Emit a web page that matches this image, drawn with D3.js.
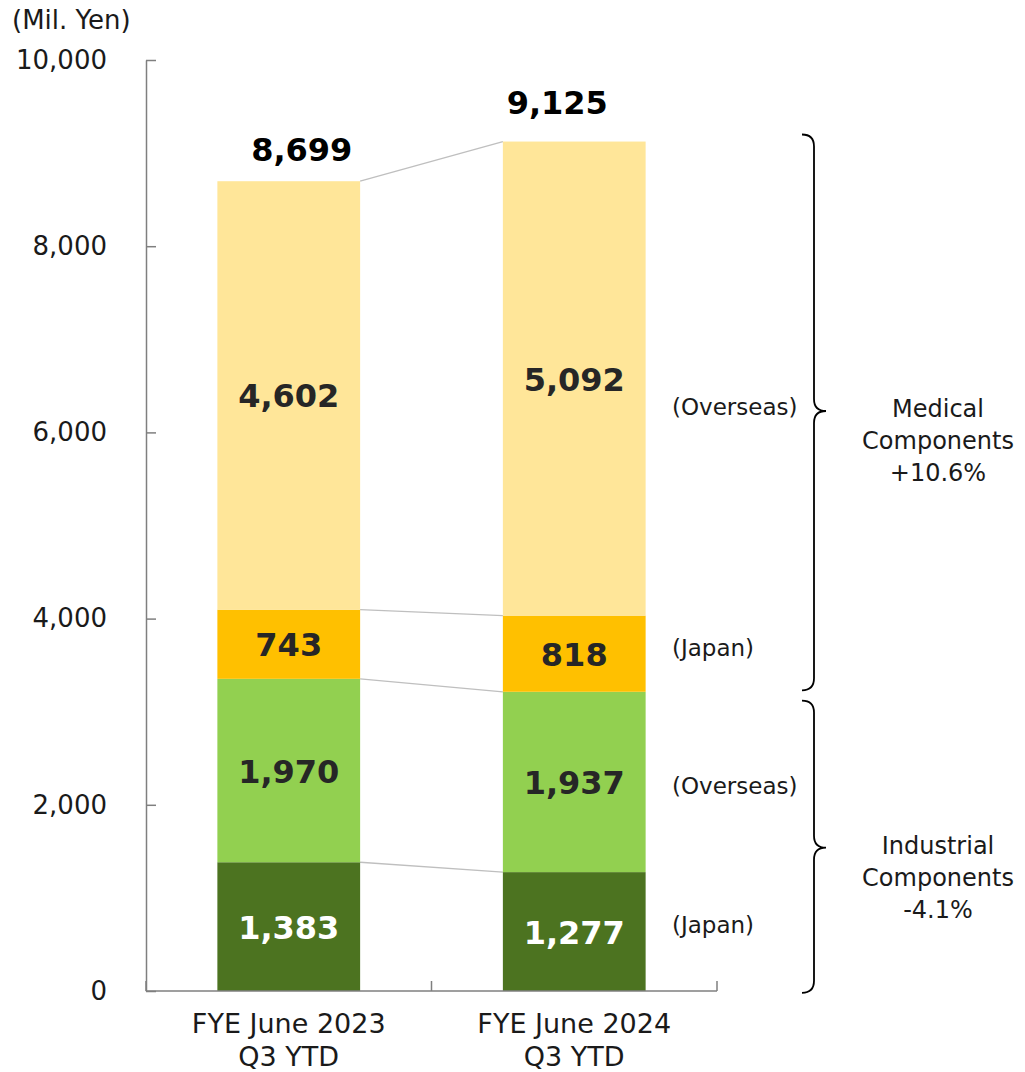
<!DOCTYPE html>
<html>
<head>
<meta charset="utf-8">
<script src="https://cdn.jsdelivr.net/npm/d3@7"></script>
<style>
  body { margin: 0; background: #fff; }
  text { font-family: "DejaVu Sans", Verdana, sans-serif; }
</style>
</head>
<body>
<div id="chart-container" style="width:1025px;height:1072px"></div>
<script>
// data
const categories = ['FYE June 2023\nQ3 YTD', 'FYE June 2024\nQ3 YTD']
const segments = ['Industrial Japan', 'Industrial Overseas', 'Medical Japan', 'Medical Overseas']
const industrialJapan = [1383, 1277]
const industrialOverseas = [1970, 1937]
const medicalJapan = [743, 818]
const medicalOverseas = [4602, 5092]
const totals = [8699, 9125]
const yTicks = [0, 2000, 4000, 6000, 8000, 10000]
const groupLabels = [
  { lines: ['Medical', 'Components', '+10.6%'], from: 9200, to: 3230, tip: 6230 },
  { lines: ['Industrial', 'Components', '-4.1%'], from: 3120, to: -20, tip: 1540 }
]
const regionLabels = [
  { text: '(Overseas)', at: 6273 },
  { text: '(Japan)', at: 3684 },
  { text: '(Overseas)', at: 2202 },
  { text: '(Japan)', at: 709 }
]

const colors = ['#4c7320', '#92d050', '#ffc000', '#ffe699']
const labelColors = ['#ffffff', '#262626', '#262626', '#262626']
// the total labels sit a bit off centre in the original
const totalNudge = [{ dx: 13, dy: -31 }, { dx: -17, dy: -38 }]

const width = 1025
const height = 1072

const svg = d3.select('#chart-container').append('svg')
  .attr('width', width)
  .attr('height', height)

const x = d3.scaleBand()
  .domain(categories)
  .range([146, 717])

const y = d3.scaleLinear()
  .domain([0, 10000])
  .range([991, 60])

const table = categories.map((c, i) => ({
  cat: c,
  'Industrial Japan': industrialJapan[i],
  'Industrial Overseas': industrialOverseas[i],
  'Medical Japan': medicalJapan[i],
  'Medical Overseas': medicalOverseas[i]
}))
const stacked = d3.stack().keys(segments)(table)

const barW = x.bandwidth() * 0.5
const barX = c => x(c) + x.bandwidth() * 0.25

// connector lines between the bars
stacked.forEach(layer => {
  svg.append('line')
    .attr('x1', barX(categories[0]) + barW)
    .attr('y1', y(layer[0][1]))
    .attr('x2', barX(categories[1]))
    .attr('y2', y(layer[1][1]))
    .attr('stroke', '#bfbfbf')
    .attr('stroke-width', 1.3)
})

// bars
stacked.forEach((layer, k) => {
  svg.append('g').selectAll('rect')
    .data(layer)
    .join('rect')
    .attr('x', d => barX(d.data.cat))
    .attr('y', d => y(d[1]))
    .attr('width', barW)
    .attr('height', d => y(d[0]) - y(d[1]))
    .attr('fill', colors[k])

  svg.append('g').selectAll('text')
    .data(layer)
    .join('text')
    .attr('x', d => barX(d.data.cat) + barW / 2)
    .attr('y', d => (y(d[0]) + y(d[1])) / 2 + 1)
    .attr('text-anchor', 'middle')
    .attr('dominant-baseline', 'central')
    .attr('font-size', 32)
    .attr('font-weight', 'bold')
    .attr('fill', labelColors[k])
    .text(d => d3.format(',')(d[1] - d[0]))
})

// totals
svg.append('g').selectAll('text')
  .data(totals)
  .join('text')
  .attr('x', (d, i) => barX(categories[i]) + barW / 2 + totalNudge[i].dx)
  .attr('y', (d, i) => y(d) + totalNudge[i].dy)
  .attr('text-anchor', 'middle')
  .attr('dominant-baseline', 'central')
  .attr('font-size', 32)
  .attr('font-weight', 'bold')
  .attr('fill', '#000')
  .text(d => d3.format(',')(d))

// y axis
const yAxis = d3.axisLeft(y)
  .tickValues(yTicks)
  .tickFormat(d3.format(','))
  .tickSize(-10)
  .tickSizeOuter(0)
  .tickPadding(39)

svg.append('g')
  .attr('transform', 'translate(146,0)')
  .call(yAxis)
  .call(g => g.selectAll('.domain, .tick line').attr('stroke', '#7f7f7f').attr('stroke-width', 1.5))
  .call(g => g.selectAll('.tick text')
    .attr('font-size', 26)
    .attr('font-family', '"DejaVu Sans", Verdana, sans-serif')
    .attr('fill', '#1a1a1a'))

svg.append('text')
  .attr('x', 12)
  .attr('y', 20)
  .attr('dominant-baseline', 'central')
  .attr('font-size', 26)
  .attr('fill', '#1a1a1a')
  .text('(Mil. Yen)')

// x axis
const xAxisG = svg.append('g')
xAxisG.append('line')
  .attr('x1', x.range()[0]).attr('x2', x.range()[1])
  .attr('y1', y(0)).attr('y2', y(0))
  .attr('stroke', '#7f7f7f').attr('stroke-width', 1.5)
const bounds = categories.map(c => x(c)).concat([x(categories[1]) + x.bandwidth()])
xAxisG.selectAll('.xtick')
  .data(bounds)
  .join('line')
  .attr('x1', d => d).attr('x2', d => d)
  .attr('y1', y(0)).attr('y2', y(0) - 10)
  .attr('stroke', '#7f7f7f').attr('stroke-width', 1.5)

categories.forEach(c => {
  const t = xAxisG.append('text')
    .attr('x', x(c) + x.bandwidth() / 2)
    .attr('y', 1024)
    .attr('text-anchor', 'middle')
    .attr('font-size', 27)
    .attr('fill', '#1a1a1a')
  c.split('\n').forEach((line, i) => {
    t.append('tspan')
      .attr('x', x(c) + x.bandwidth() / 2)
      .attr('dy', i === 0 ? '0.35em' : 33)
      .text(line)
  })
})

// region labels on the right
svg.append('g').selectAll('text')
  .data(regionLabels)
  .join('text')
  .attr('x', 672)
  .attr('y', d => y(d.at))
  .attr('dominant-baseline', 'central')
  .attr('font-size', 23)
  .attr('fill', '#1a1a1a')
  .text(d => d.text)

// braces with group labels
const braceX = 814
groupLabels.forEach(g => {
  const top = y(g.from)
  const bot = y(g.to)
  const tip = y(g.tip)
  const r = 12
  const p = d3.path()
  p.moveTo(braceX - r, top)
  p.quadraticCurveTo(braceX, top, braceX, top + r)
  p.lineTo(braceX, tip - r)
  p.quadraticCurveTo(braceX, tip, braceX + r, tip)
  p.quadraticCurveTo(braceX, tip, braceX, tip + r)
  p.lineTo(braceX, bot - r)
  p.quadraticCurveTo(braceX, bot, braceX - r, bot)
  svg.append('path')
    .attr('d', p.toString())
    .attr('fill', 'none')
    .attr('stroke', '#000')
    .attr('stroke-width', 1.8)

  const t = svg.append('text')
    .attr('text-anchor', 'middle')
    .attr('font-size', 24)
    .attr('fill', '#1a1a1a')
  g.lines.forEach((line, i) => {
    t.append('tspan')
      .attr('x', 938)
      .attr('y', tip - 2 + i * 32)
      .attr('dominant-baseline', 'central')
      .text(line)
  })
})
</script>
</body>
</html>
